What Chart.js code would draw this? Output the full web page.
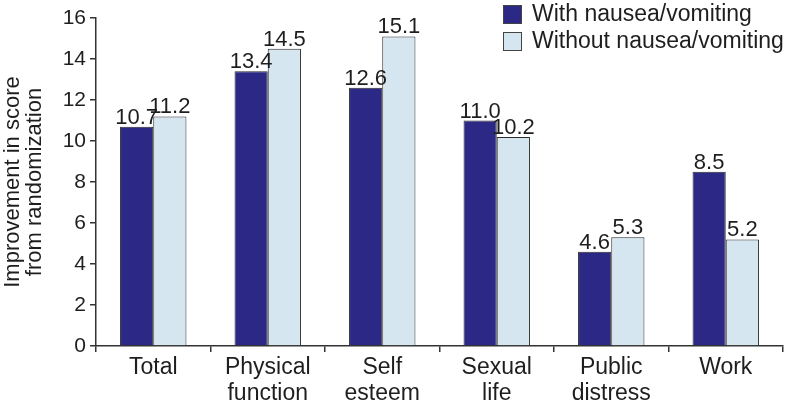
<!DOCTYPE html>
<html><head><meta charset="utf-8">
<script src="https://cdn.jsdelivr.net/npm/chart.js@4"></script>
<style>html,body{margin:0;padding:0;background:#fff}#wrap{width:787px;height:407px;position:relative}</style>
</head><body><div id="wrap"><canvas id="c" width="787" height="407"></canvas></div>
<script>
const categories = [["Total"],["Physical","function"],["Self","esteem"],["Sexual","life"],["Public","distress"],["Work"]];
const withNausea = [10.7, 13.4, 12.6, 11.0, 4.6, 8.5];
const withoutNausea = [11.2, 14.5, 15.1, 10.2, 5.3, 5.2];
const seriesNames = ["With nausea/vomiting", "Without nausea/vomiting"];
const yTitle = ["Improvement in score", "from randomization"];

const FONT = "'Liberation Sans', Arial, sans-serif";
const TXT = '#1e1e1e';

const labelPlugin = {
  id: 'valLabels',
  afterDatasetsDraw(chart) {
    const ctx = chart.ctx;
    ctx.save();
    ctx.font = '22px ' + FONT;
    ctx.fillStyle = TXT;
    ctx.textAlign = 'center';
    ctx.textBaseline = 'alphabetic';
    chart.data.datasets.forEach((ds, i) => {
      chart.getDatasetMeta(i).data.forEach((bar, j) => {
        ctx.fillText(ds.data[j].toFixed(1), bar.x, bar.y - 3);
      });
    });
    ctx.restore();
  }
};

const legendPlugin = {
  id: 'customLegend',
  afterDraw(chart) {
    const ctx = chart.ctx;
    ctx.save();
    ctx.font = '23px ' + FONT;
    ctx.textBaseline = 'middle';
    chart.data.datasets.forEach((ds, i) => {
      const y = 5 + i * 27;
      ctx.fillStyle = ds.backgroundColor;
      ctx.fillRect(503, y, 18, 18);
      ctx.strokeStyle = '#444';
      ctx.lineWidth = 1;
      ctx.strokeRect(503.5, y + 0.5, 18, 18);
      ctx.fillStyle = TXT;
      ctx.textAlign = 'left';
      ctx.fillText(ds.label, 532, y + 10);
    });
    ctx.restore();
  }
};

new Chart(document.getElementById('c'), {
  type: 'bar',
  data: {
    labels: categories,
    datasets: [
      { label: seriesNames[0], data: withNausea, backgroundColor: '#2c2986', borderColor: '#2a2a2a', borderWidth: 1 },
      { label: seriesNames[1], data: withoutNausea, backgroundColor: '#d6e6f0', borderColor: '#2a2a2a', borderWidth: 1 }
    ]
  },
  options: {
    responsive: false,
    animation: false,
    devicePixelRatio: 1,
    layout: { padding: { left: 0, top: 18, right: 4, bottom: 0 } },
    plugins: { legend: { display: false }, tooltip: { enabled: false } },
    datasets: { bar: { categoryPercentage: 0.58, barPercentage: 1.0 } },
    scales: {
      x: {
        grid: { display: true, offset: true, drawOnChartArea: false, drawTicks: true, tickLength: 6, color: '#333', lineWidth: 1.5 },
        border: { display: true, color: '#333', width: 1.5 },
        ticks: { color: TXT, font: { family: FONT, size: 23, lineHeight: 1.13 }, maxRotation: 0, autoSkip: false, padding: 3 },
        afterFit(s) { s.height = 61; }
      },
      y: {
        min: 0, max: 16,
        grid: { display: true, drawOnChartArea: false, drawTicks: true, tickLength: 6, color: '#333', lineWidth: 1.5 },
        border: { display: true, color: '#333', width: 1.5 },
        ticks: { stepSize: 2, color: TXT, font: { family: FONT, size: 21 }, padding: 4 },
        title: { display: true, text: yTitle, color: TXT, font: { family: FONT, size: 22, lineHeight: 1.0 }, padding: { top: 2, bottom: 0 } },
        afterFit(s) { s.width = 96; }
      }
    }
  },
  plugins: [labelPlugin, legendPlugin]
});
</script>
</body></html>
